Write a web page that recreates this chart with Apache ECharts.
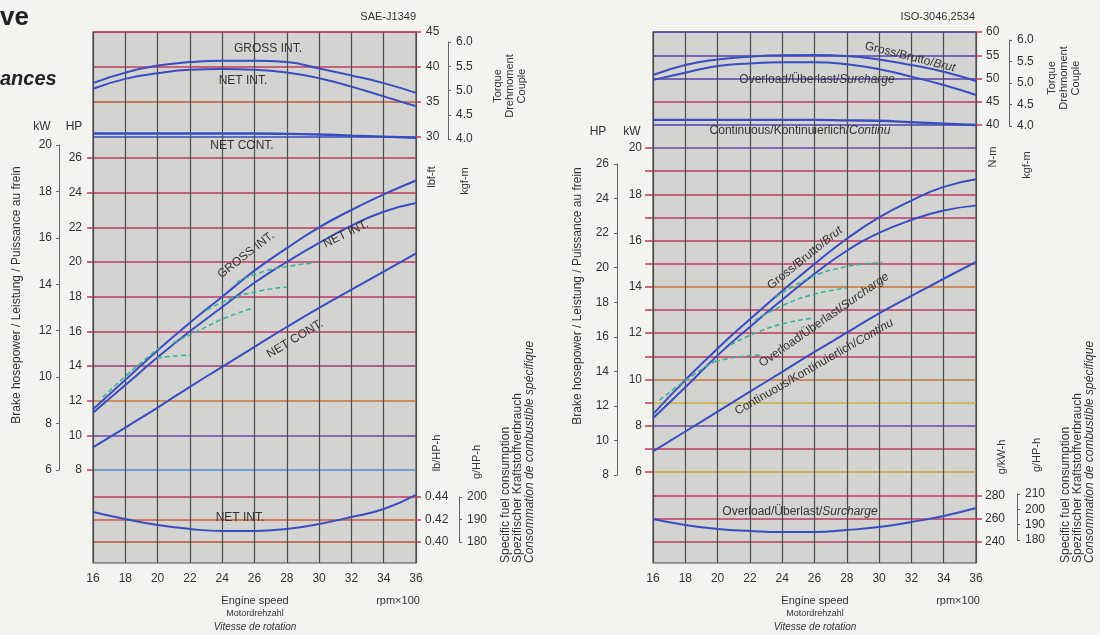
<!DOCTYPE html>
<html><head><meta charset="utf-8">
<script src="https://cdn.jsdelivr.net/npm/echarts@6/dist/echarts.min.js"></script>
<style>html,body{margin:0;padding:0;background:#f3f3f0;}#c{width:1100px;height:635px;}</style>
</head><body><div id="c"></div>
<script>
// ---------------- DATA ----------------
const rpm = [16, 18, 20, 22, 24, 26, 28, 30, 32, 34, 36];          // engine speed, rpm x100

// Left chart: SAE-J1349
const saeTorqueGross   = [37.7, 39.2, 40.2, 40.7, 40.9, 40.9, 40.7, 39.8, 38.8, 37.7, 36.3]; // lbf-ft
const saeTorqueNetInt  = [36.9, 38.3, 39.1, 39.6, 39.7, 39.6, 39.2, 38.4, 37.2, 35.8, 34.4];
const saeTorqueNetCont = [30.5, 30.5, 30.5, 30.5, 30.5, 30.5, 30.45, 30.35, 30.2, 30.05, 29.9];
const saePowerGross    = [11.5, 13.2, 14.9, 16.5, 18.0, 19.5, 20.8, 22.0, 23.0, 23.9, 24.7];   // HP
const saePowerNetInt   = [11.3, 12.9, 14.5, 16.0, 17.4, 18.8, 20.0, 21.1, 22.1, 22.9, 23.4];
const saePowerNetCont  = [9.3, 10.45, 11.6, 12.8, 13.95, 15.1, 16.25, 17.35, 18.4, 19.45, 20.5];
const saeFuelNetInt    = [0.4267, 0.4204, 0.4151, 0.4116, 0.4098, 0.4098, 0.4116, 0.4160, 0.4222, 0.4293, 0.4418]; // lb/HP-h
const saePartLoad1 = [[19.96, 14.46], [20.95, 14.57], [22.0, 14.63]];
const saePartLoad2 = [[20.95, 15.33], [22.63, 16.08], [24.17, 16.77], [25.9, 17.34]];
const saePartLoad3 = [[23.06, 17.23], [24.48, 17.86], [26.34, 18.33], [28.0, 18.56]];
const saePartLoad4 = [[24.92, 18.84], [26.46, 19.42], [28.2, 19.77], [29.6, 19.94]];
const saePartEnvelope = [[16.6, 12.2], [18.3, 13.65], [20.15, 15.09]];

// Right chart: ISO-3046,2534
const isoTorqueGross    = [50.75, 52.9, 54.1, 54.7, 55.0, 55.05, 54.85, 54.1, 52.9, 51.45, 49.45]; // N·m
const isoTorqueOverload = [49.7, 51.25, 52.7, 53.25, 53.5, 53.5, 53.05, 52.0, 50.4, 48.6, 46.45];
const isoTorqueCont     = [41.1, 41.1, 41.1, 41.1, 41.1, 41.1, 41.0, 40.9, 40.6, 40.3, 40.0];
const isoPowerGross     = [8.5, 9.97, 11.34, 12.6, 13.82, 14.99, 16.08, 17.0, 17.73, 18.32, 18.65]; // kW
const isoPowerOverload  = [8.32, 9.66, 11.04, 12.27, 13.44, 14.56, 15.56, 16.33, 16.89, 17.3, 17.51];
const isoPowerCont      = [6.89, 7.75, 8.61, 9.47, 10.33, 11.19, 12.02, 12.85, 13.61, 14.35, 15.08];
const isoFuelOverload   = [260, 254.8, 251.3, 249.6, 248.7, 248.7, 250.4, 253, 257.4, 262.6, 269.6]; // g/kW-h
const isoPartLoad1 = [[19.84, 10.77], [21.2, 10.97], [22.6, 11.05]];
const isoPartLoad2 = [[20.8, 11.5], [22.5, 12.05], [24.3, 12.45], [26.0, 12.65]];
const isoPartLoad3 = [[22.3, 12.55], [24.2, 13.25], [26.1, 13.7], [28.0, 13.95]];
const isoPartLoad4 = [[23.6, 13.55], [25.6, 14.35], [27.8, 14.85], [30.2, 15.05]];
const isoPartEnvelope = [[16.4, 9.1], [18.2, 10.05], [19.96, 10.84]];

// ---------------- CHART ----------------
const FONT = "'Liberation Sans', Arial, sans-serif";
const TXT = '#333';
const BLUE = '#3b4cc0';
const GREEN = '#3fb09a';
const RED = '#c23b5e';
const VLINE = '#4d4d4d';
const BG = '#d3d3d1';

function zip(xs, ys) { return xs.map((x, i) => [x, ys[i]]); }

const grids = [
  {left: 93, top: 32, width: 323, height: 531, show: true, backgroundColor: BG, borderColor: VLINE, borderWidth: 1.2}, // 0 L bg
  {left: 93, top: 32, width: 323, height: 105},   // 1 L lbf-ft
  {left: 93, top: 42, width: 323, height: 97},    // 2 L kgf-m
  {left: 93, top: 158, width: 323, height: 312},  // 3 L HP
  {left: 59, top: 145, width: 34, height: 325},   // 4 L kW bracket
  {left: 93, top: 497, width: 323, height: 45},   // 5 L fuel
  {left: 653, top: 32, width: 323, height: 531, show: true, backgroundColor: BG, borderColor: VLINE, borderWidth: 1.2}, // 6 R bg
  {left: 653, top: 32, width: 323, height: 93},   // 7 R N·m
  {left: 653, top: 40, width: 323, height: 86},   // 8 R kgf-m
  {left: 653, top: 148, width: 323, height: 324}, // 9 R kW
  {left: 617, top: 164, width: 36, height: 311},  // 10 R HP bracket
  {left: 653, top: 496, width: 323, height: 46},  // 11 R g/kW-h
  {left: 653, top: 494, width: 323, height: 46}   // 12 R g/HP-h
];

const xAxes = grids.map((g, i) => {
  if (i === 0 || i === 6) {
    return {type: 'value', gridIndex: i, min: 16, max: 36, interval: 2, z: 1,
      axisLine: {show: false}, axisTick: {show: false},
      axisLabel: {color: TXT, fontSize: 12, margin: 10, fontFamily: FONT},
      splitLine: {show: true, lineStyle: {color: VLINE, width: 1.2}}};
  }
  return {type: 'value', gridIndex: i, min: 16, max: 36, show: false};
});

function gridAxis(gi, pos, min, max, interval, colors, opts) {
  opts = opts || {};
  return {
    type: 'value', gridIndex: gi, position: pos, min: min, max: max, interval: interval, z: 1,
    offset: opts.offset || 0,
    axisLine: {show: false},
    axisTick: {show: true, length: opts.tick || 6, lineStyle: {color: opts.tickColor || RED, width: 1.5}},
    axisLabel: {color: TXT, fontSize: 12, fontFamily: FONT, margin: opts.margin || 10,
      formatter: opts.fmt || (v => String(v))},
    splitLine: {show: opts.split !== false, lineStyle: {color: colors, width: 1.6}}
  };
}
function bracketAxis(gi, pos, min, max, interval, opts) {
  opts = opts || {};
  return {
    type: 'value', gridIndex: gi, position: pos, min: min, max: max, interval: interval, z: 1,
    offset: opts.offset || 0,
    axisLine: {show: true, lineStyle: {color: '#666', width: 1}},
    axisTick: {show: true, length: 3, lineStyle: {color: '#666', width: 1}},
    axisLabel: {color: TXT, fontSize: 12, fontFamily: FONT, margin: opts.margin || 7,
      formatter: opts.fmt || (v => String(v))},
    splitLine: {show: false}
  };
}

const yAxes = [
  {type: 'value', gridIndex: 0, min: 0, max: 1, show: false},                                   // 0
  gridAxis(1, 'right', 30, 45, 5, ['#3b4cc0', '#c4583e', '#c23b5e', '#c23b5e'], {margin: 10, tick: 5}), // 1 lbf-ft
  bracketAxis(2, 'right', 4, 6, 0.5, {offset: 32, margin: 8, fmt: v => v.toFixed(1)}),           // 2 kgf-m
  gridAxis(3, 'left', 8, 26, 2, ['#4f93c4', '#6a48a8', '#c4783e', '#a23a72', RED, RED, RED, RED, RED, RED], {margin: 11, tick: 6}), // 3 HP
  bracketAxis(4, 'left', 6, 20, 2, {margin: 7}),                                                 // 4 kW
  gridAxis(5, 'right', 0.40, 0.44, 0.02, ['#c4503e', '#c85a40', '#c23b5e'], {margin: 9, tick: 5, fmt: v => v.toFixed(2)}), // 5 lb/HP-h
  bracketAxis(5, 'right', 180, 200, 10, {offset: 43, margin: 8}),                                // 6 g/HP-h
  {type: 'value', gridIndex: 6, min: 0, max: 1, show: false},                                   // 7
  gridAxis(7, 'right', 40, 60, 5, ['#4a44ae', '#c23b5e', '#5a40a8', '#5a40a8', '#4a44ae'], {margin: 10, tick: 6}), // 8 N·m
  bracketAxis(8, 'right', 4, 6, 0.5, {offset: 33, margin: 8, fmt: v => v.toFixed(1)}),          // 9 kgf-m
  gridAxis(9, 'left', 6, 20, 1, ['#c8a040', '#c23b5e', '#6a48a8', '#c4b040', '#c4783e', RED, RED, RED, '#c4783e', RED, RED, RED, RED, RED, '#6a48a8'],
    {margin: 11, tick: 8, fmt: v => (v % 2 === 0 ? String(v) : '')}),                           // 10 kW
  bracketAxis(10, 'left', 8, 26, 2, {margin: 8}),                                                // 11 HP
  gridAxis(11, 'right', 240, 280, 20, [RED, '#c23b5e', RED], {margin: 9, tick: 6}),              // 12 g/kW-h
  bracketAxis(12, 'right', 180, 210, 10, {offset: 41, margin: 8})                                // 13 g/HP-h
];

function line(xi, yi, data, opts) {
  opts = opts || {};
  return {type: 'line', xAxisIndex: xi, yAxisIndex: yi, data: data, smooth: opts.smooth === undefined ? true : opts.smooth,
    showSymbol: false, clip: false, z: 3, silent: true,
    lineStyle: {color: opts.color || BLUE, width: opts.width || 2, type: opts.type || 'solid'}};
}
function dash(xi, yi, data) {
  return line(xi, yi, data, {color: GREEN, width: 1.6, type: [5, 3]});
}

const series = [
  line(1, 1, zip(rpm, saeTorqueGross)),
  line(1, 1, zip(rpm, saeTorqueNetInt)),
  line(1, 1, zip(rpm, saeTorqueNetCont), {width: 2.4}),
  line(3, 3, zip(rpm, saePowerGross)),
  line(3, 3, zip(rpm, saePowerNetInt)),
  line(3, 3, zip(rpm, saePowerNetCont)),
  dash(3, 3, saePartLoad1), dash(3, 3, saePartLoad2), dash(3, 3, saePartLoad3), dash(3, 3, saePartLoad4), dash(3, 3, saePartEnvelope),
  line(5, 5, zip(rpm, saeFuelNetInt)),
  line(7, 8, zip(rpm, isoTorqueGross)),
  line(7, 8, zip(rpm, isoTorqueOverload)),
  line(7, 8, zip(rpm, isoTorqueCont), {width: 2.4}),
  line(9, 10, zip(rpm, isoPowerGross)),
  line(9, 10, zip(rpm, isoPowerOverload)),
  line(9, 10, zip(rpm, isoPowerCont)),
  dash(9, 10, isoPartLoad1), dash(9, 10, isoPartLoad2), dash(9, 10, isoPartLoad3), dash(9, 10, isoPartLoad4), dash(9, 10, isoPartEnvelope),
  line(11, 12, zip(rpm, isoFuelOverload))
];

// ---------------- TEXT ----------------
const D2R = Math.PI / 180;
function T(x, y, text, o) {
  o = o || {};
  const st = {text: text, fill: o.color || TXT, textAlign: o.align || 'center', textVerticalAlign: 'middle',
    font: (o.style || '') + ' ' + (o.weight || 'normal') + ' ' + (o.size || 12) + 'px ' + FONT};
  if (o.rich) st.rich = o.rich;
  return {type: 'text', x: x, y: y, rotation: (o.rot || 0) * D2R, z: 20, silent: true, style: st};
}
const it = {i: {fontStyle: 'italic', fontSize: 12, fontFamily: FONT, fill: TXT}, n: {fontSize: 12, fontFamily: FONT, fill: TXT}};

const graphics = [
  T(0, 18, 've', {align: 'left', size: 26, weight: 'bold', color: '#222'}),
  T(0, 79, 'ances', {align: 'left', size: 20, weight: 'bold', style: 'italic', color: '#222'}),
  // left chart
  T(416, 17, 'SAE-J1349', {align: 'right', size: 11}),
  T(268, 49, 'GROSS INT.'),
  T(243, 81, 'NET INT.'),
  T(242, 146, 'NET CONT.'),
  T(246, 255, 'GROSS INT.', {rot: 38}),
  T(346, 234, 'NET INT.', {rot: 26}),
  T(295, 339, 'NET CONT.', {rot: 31}),
  T(240, 518, 'NET INT.'),
  T(42, 127, 'kW'), T(74, 127, 'HP'),
  T(17, 295, 'Brake hosepower / Leistung / Puissance au frein', {rot: 90, size: 12}),
  T(432, 177, 'lbf-ft', {rot: 90, size: 11}),
  T(465, 181, 'kgf-m', {rot: 90, size: 11}),
  T(498, 86, 'Torque', {rot: 90, size: 11}),
  T(510, 86, 'Drehmoment', {rot: 90, size: 11}),
  T(522, 86, 'Couple', {rot: 90, size: 11}),
  T(437, 453, 'lb/HP-h', {rot: 90, size: 11}),
  T(477, 462, 'g/HP-h', {rot: 90, size: 11}),
  T(506, 563, 'Specific fuel consumption', {rot: 90, align: 'left', size: 12}),
  T(518, 563, 'Spezifischer Kraftstoffverbrauch', {rot: 90, align: 'left', size: 12}),
  T(530, 563, 'Consommation de combustible spécifique', {rot: 90, align: 'left', size: 12, style: 'italic'}),
  T(255, 601, 'Engine speed', {size: 11}),
  T(255, 614, 'Motordrehzahl', {size: 9}),
  T(255, 627, 'Vitesse de rotation', {size: 10, style: 'italic'}),
  T(398, 601, 'rpm×100', {size: 11}),
  // right chart
  T(975, 17, 'ISO-3046,2534', {align: 'right', size: 11}),
  T(910, 57, '{n|Gross/Brutto/}{i|Brut}', {rot: -14, rich: it}),
  T(817, 80, '{n|Overload/Überlast/}{i|Surcharge}', {rich: it}),
  T(800, 131, '{n|Continuous/Kontinuierlich/}{i|Continu}', {rich: it}),
  T(805, 258, '{n|Gross/Brutto/}{i|Brut}', {rot: 39, rich: it}),
  T(824, 320, '{n|Overload/Überlast/}{i|Surcharge}', {rot: 35, rich: it}),
  T(814, 367, '{n|Continuous/Kontinuierlich/}{i|Continu}', {rot: 30, rich: it}),
  T(800, 512, '{n|Overload/Überlast/}{i|Surcharge}', {rich: it}),
  T(598, 132, 'HP'), T(632, 132, 'kW'),
  T(578, 296, 'Brake hosepower / Leistung / Puissance au frein', {rot: 90, size: 12}),
  T(993, 157, 'N-m', {rot: 90, size: 11}),
  T(1027, 165, 'kgf-m', {rot: 90, size: 11}),
  T(1052, 78, 'Torque', {rot: 90, size: 11}),
  T(1064, 78, 'Drehmoment', {rot: 90, size: 11}),
  T(1076, 78, 'Couple', {rot: 90, size: 11}),
  T(1002, 457, 'g/kW-h', {rot: 90, size: 11}),
  T(1037, 455, 'g/HP-h', {rot: 90, size: 11}),
  T(1066, 563, 'Specific fuel consumption', {rot: 90, align: 'left', size: 12}),
  T(1078, 563, 'Spezifischer Kraftstoffverbrauch', {rot: 90, align: 'left', size: 12}),
  T(1090, 563, 'Consommation de combustible spécifique', {rot: 90, align: 'left', size: 12, style: 'italic'}),
  T(815, 601, 'Engine speed', {size: 11}),
  T(815, 614, 'Motordrehzahl', {size: 9}),
  T(815, 627, 'Vitesse de rotation', {size: 10, style: 'italic'}),
  T(958, 601, 'rpm×100', {size: 11})
];

const chart = echarts.init(document.getElementById('c'), null, {renderer: 'canvas'});
chart.setOption({
  animation: false,
  backgroundColor: '#f3f3f0',
  grid: grids, xAxis: xAxes, yAxis: yAxes, series: series, graphic: graphics
});
</script></body></html>
